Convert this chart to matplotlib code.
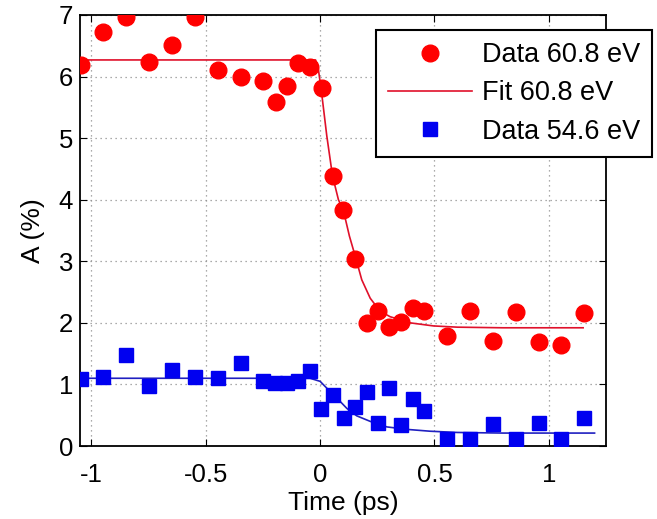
import matplotlib
matplotlib.use('Agg')
import matplotlib.pyplot as plt

plt.rcParams['font.family'] = ['Liberation Sans', 'DejaVu Sans']
plt.rcParams['axes.unicode_minus'] = False

# red data (60.8 eV)
t_red = [-1.047, -0.948, -0.849, -0.747, -0.646, -0.547, -0.448, -0.347, -0.248, -0.194,
         -0.146, -0.095, -0.044, 0.007, 0.055, 0.102, 0.153, 0.204, 0.255, 0.302,
         0.354, 0.405, 0.456, 0.554, 0.656, 0.755, 0.856, 0.955, 1.054, 1.155]
a_red = [6.18, 6.72, 6.97, 6.23, 6.52, 6.97, 6.11, 6.00, 5.93, 5.59,
         5.84, 6.22, 6.15, 5.81, 4.38, 3.83, 3.04, 1.99, 2.19, 1.93,
         2.02, 2.24, 2.20, 1.78, 2.20, 1.71, 2.18, 1.69, 1.64, 2.16]

# blue data (54.6 eV)
t_blue = [-1.047, -0.948, -0.849, -0.748, -0.646, -0.547, -0.448, -0.347, -0.248, -0.197,
          -0.146, -0.095, -0.044, 0.004, 0.058, 0.105, 0.153, 0.204, 0.255, 0.302,
          0.354, 0.405, 0.456, 0.554, 0.656, 0.755, 0.856, 0.955, 1.054, 1.155]
a_blue = [1.09, 1.12, 1.47, 0.97, 1.23, 1.12, 1.10, 1.35, 1.06, 1.02,
          1.02, 1.06, 1.21, 0.60, 0.83, 0.45, 0.64, 0.87, 0.38, 0.94,
          0.34, 0.77, 0.57, 0.12, 0.11, 0.35, 0.12, 0.38, 0.11, 0.46]

# fit curves
fit_red_t = [-1.05, -0.02, -0.007, 0.007, 0.029, 0.054, 0.08, 0.102, 0.128, 0.156,
             0.182, 0.219, 0.262, 0.306, 0.394, 0.496, 0.6, 0.8, 1.0, 1.15]
fit_red_a = [6.27, 6.27, 6.10, 5.72, 5.04, 4.39, 4.00, 3.82, 3.41, 3.05,
             2.70, 2.40, 2.19, 2.10, 2.00, 1.95, 1.93, 1.92, 1.92, 1.92]
fit_blue_t = [-1.05, -0.06, -0.044, 0.0, 0.029, 0.073, 0.117, 0.16, 0.219, 0.292,
              0.379, 0.481, 0.6, 0.8, 1.0, 1.2]
fit_blue_a = [1.10, 1.10, 1.10, 1.05, 0.94, 0.78, 0.61, 0.49, 0.40, 0.31,
              0.27, 0.24, 0.22, 0.21, 0.21, 0.21]

fig = plt.figure(figsize=(6.57, 5.19), dpi=100)
ax = fig.add_axes([80/657, 73/519, 526/657, 431/519])

ax.plot(fit_blue_t, fit_blue_a, '-', color='#2020c0', lw=1.2, zorder=2)
ax.plot(t_red, a_red, 'o', color='red', ms=12, mec='red', label='Data 60.8 eV', zorder=4)
ax.plot(fit_red_t, fit_red_a, '-', color='#e0102a', lw=1.2, label='Fit 60.8 eV', zorder=3)
ax.plot(t_blue, a_blue, 's', color='#0000f0', ms=10, mec='#0000f0', label='Data 54.6 eV', zorder=4)

ax.set_xlim(-1.05, 1.25)
ax.set_ylim(0, 7)
ax.set_xticks([-1, -0.5, 0, 0.5, 1])
ax.set_xticklabels(['-1', '-0.5', '0', '0.5', '1'])
ax.set_yticks(range(0, 8))

ax.grid(True, ls=(0, (1, 3)), color='#909090', lw=0.9)
ax.tick_params(direction='in', top=True, right=True, length=5, labelsize=18.5)
ax.tick_params(axis='x', pad=12)
ax.tick_params(axis='y', pad=5)
for s in ax.spines.values():
    s.set_linewidth(1.3)

ax.set_xlabel('Time (ps)', fontsize=19, labelpad=3)
ax.set_ylabel('A (%)', fontsize=19, labelpad=10)

leg = ax.legend(loc='upper right', bbox_to_anchor=(1.0875, 0.965), fontsize=19.5,
                fancybox=False, framealpha=1, edgecolor='black', borderpad=0.45,
                handlelength=3.1, labelspacing=0.45, handletextpad=0.35, borderaxespad=0)
leg.get_frame().set_linewidth(1.5)
leg.set_zorder(10)

fig.savefig('out.png', dpi=100)
